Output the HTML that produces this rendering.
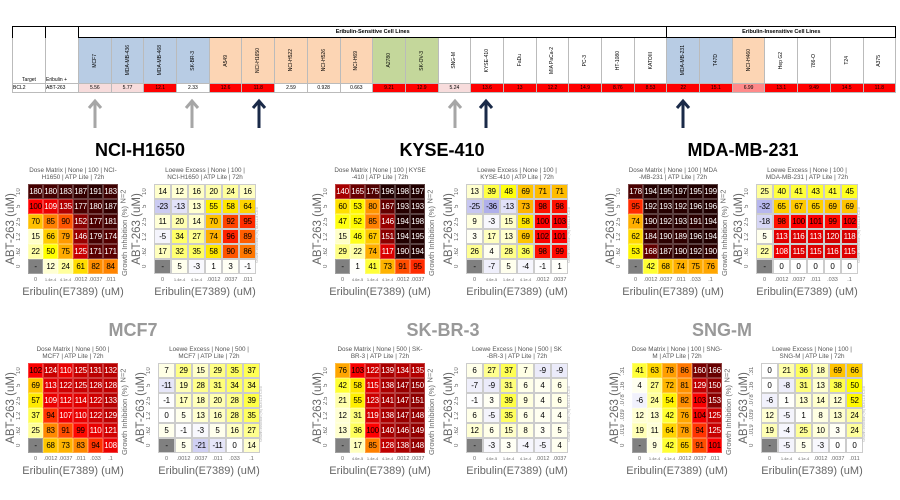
<!DOCTYPE html>
<html><head><meta charset="utf-8"><style>
body{margin:0;width:900px;height:500px;background:#fff;position:relative;overflow:hidden;font-family:"Liberation Sans",sans-serif;}
.a{position:absolute;}
table.top{position:absolute;left:12px;top:26px;border-collapse:collapse;table-layout:fixed;font-size:5px;}
table.top td{border:1px solid #bbb;padding:0;overflow:hidden;}
.top .h td{height:10px;}
.top .n td{height:45px;}
.top .v td{height:8px;text-align:center;}
.vn{writing-mode:vertical-rl;transform:rotate(180deg);margin:auto;white-space:nowrap;font-size:5px;}
.bl{background:#b8cce4;}.or{background:#fcd5b4;}.gr{background:#c4d79b;}
.r{background:#ff0000;}.pk{background:#f7dcdc;}.lr{background:#ff8a8a;}
.ttl{position:absolute;font-weight:bold;font-size:18px;transform:translateX(-50%);white-space:nowrap;}
.hm{position:absolute;}
.hm .t{position:absolute;top:-16px;left:-20px;right:-20px;text-align:center;font-size:6.3px;line-height:6.5px;color:#555;}
.hm .g{display:grid;grid-template-rows:repeat(6,15px);}
.hm.d .g{grid-template-columns:repeat(6,15px);}
.hm.l .g{grid-template-columns:repeat(6,17px);}
.hm .g i{font-style:normal;font-size:8px;display:flex;align-items:center;justify-content:center;box-sizing:border-box;letter-spacing:-0.3px;}
.hm.d .g i{border:0.5px solid rgba(255,255,255,.25);}
.hm.l .g i{border:0.5px solid #ccc;}
.hm .yt{position:absolute;left:-12px;top:0;display:flex;flex-direction:column;}
.hm .yt span{height:15px;width:10px;writing-mode:vertical-rl;transform:rotate(180deg);font-size:6px;color:#666;text-align:center;}
.hm .xt{position:absolute;left:0;top:93px;display:flex;}
.hm .xt span{text-align:center;font-size:5.5px;color:#666;}
.hm.d .xt span{width:15px;}.hm.l .xt span{width:17px;}
.hm .xt span.s{font-size:4px;}
.hm .xl{position:absolute;top:102px;left:-30px;right:-30px;text-align:center;font-size:11px;color:#666;white-space:nowrap;}
.hm .yl{position:absolute;left:-61px;top:38px;width:90px;height:14px;text-align:center;font-size:11.5px;color:#666;transform:rotate(-90deg);white-space:nowrap;}
.hm .rl{position:absolute;top:52px;width:90px;height:10px;text-align:center;font-size:7.5px;color:#666;transform:rotate(-90deg);white-space:nowrap;}
.hm.d .rl{left:52px;}
.hm.l .rl{left:61px;font-size:3.5px;color:#aaa;top:46px;}
.hm .nn{position:absolute;top:8px;left:88px;font-size:7.5px;color:#666;transform:rotate(-90deg);}
</style></head><body>

<table class="top">
<colgroup><col style="width:33px"><col style="width:33px"><col span="25" style="width:32.7px"></colgroup>
<tr class="h"><td style="border:1px solid #000;border-bottom:none"></td><td style="border:1px solid #000;border-bottom:none"></td><td colspan="18" style="border:1.5px solid #000;text-align:center;font-weight:bold;font-size:5.5px">Eribulin-Sensitive Cell Lines</td><td colspan="7" style="border:1.5px solid #000;text-align:center;font-weight:bold;font-size:5.5px">Eribulin-Insensitive Cell Lines</td></tr>
<tr class="n"><td style="vertical-align:bottom;text-align:center;border-top:none">Target</td><td style="vertical-align:bottom;border-top:none">Eribulin +</td>
<td class="bl"><div class="vn">MCF7</div></td><td class="bl"><div class="vn">MDA-MB-436</div></td><td class="bl"><div class="vn">MDA-MB-468</div></td><td class="bl"><div class="vn">SK-BR-3</div></td>
<td class="or"><div class="vn">A549</div></td><td class="or"><div class="vn">NCI-H1650</div></td><td class="or"><div class="vn">NCI-H522</div></td><td class="or"><div class="vn">NCI-H526</div></td><td class="or"><div class="vn">NCI-H69</div></td>
<td class="gr"><div class="vn">A2780</div></td><td class="gr"><div class="vn">SK-OV-3</div></td>
<td><div class="vn">SNG-M</div></td><td><div class="vn">KYSE-410</div></td><td><div class="vn">FaDu</div></td><td><div class="vn">MIA PaCa-2</div></td><td><div class="vn">PC-3</div></td><td><div class="vn">HT-1080</div></td><td><div class="vn">KATOIII</div></td>
<td class="bl"><div class="vn">MDA-MB-231</div></td><td class="bl"><div class="vn">T47D</div></td><td class="or"><div class="vn">NCI-H460</div></td>
<td><div class="vn">Hep G2</div></td><td><div class="vn">786-O</div></td><td><div class="vn">T24</div></td><td><div class="vn">A375</div></td></tr>
<tr class="v"><td style="text-align:left">BCL2</td><td style="text-align:left">ABT-263</td>
<td class="pk">5.56</td><td class="pk">5.77</td><td class="r">12.1</td><td>2.33</td><td class="r">12.6</td><td class="r">11.8</td><td>2.59</td><td>0.928</td><td>0.663</td><td class="r">9.21</td><td class="r">12.9</td><td class="pk">5.24</td><td class="r">13.6</td><td class="r">13</td><td class="r">12.2</td><td class="r">14.9</td><td class="r">8.76</td><td class="r">8.53</td><td class="r">22</td><td class="r">15.1</td><td class="lr">6.99</td><td class="r">13.1</td><td class="r">9.49</td><td class="r">14.5</td><td class="r">11.8</td></tr>
</table>

<svg class="a" style="left:0;top:0" width="900" height="140">
<g fill="none" stroke-width="3" stroke-linejoin="miter">
<path d="M95 128V101M89 108L95 101L101 108" stroke="#a6a6a6"/>
<path d="M192 128V101M186 108L192 101L198 108" stroke="#a6a6a6"/>
<path d="M455 128V101M449 108L455 101L461 108" stroke="#a6a6a6"/>
<path d="M259 128V101M253 108L259 101L265 108" stroke="#1a2a48"/>
<path d="M486 128V101M480 108L486 101L492 108" stroke="#1a2a48"/>
<path d="M683 128V101M677 108L683 101L689 108" stroke="#1a2a48"/>
</g></svg>

<div class="ttl" style="left:140px;top:140px">NCI-H1650</div>
<div class="ttl" style="left:442px;top:140px">KYSE-410</div>
<div class="ttl" style="left:743px;top:140px">MDA-MB-231</div>
<div class="ttl" style="left:133px;top:320px;color:#999">MCF7</div>
<div class="ttl" style="left:443px;top:320px;color:#999">SK-BR-3</div>
<div class="ttl" style="left:722px;top:320px;color:#999">SNG-M</div>

<!-- NCI-H1650 -->
<div class="hm d" style="left:28px;top:184px"><div class="t">Dose Matrix | None | 100 | NCI-<br>H1650 | ATP Lite | 72h</div>
<div class="g"><i>180</i><i>180</i><i>183</i><i>187</i><i>191</i><i>183</i><i>100</i><i>109</i><i>135</i><i>177</i><i>180</i><i>187</i><i>70</i><i>85</i><i>90</i><i>152</i><i>177</i><i>181</i><i>15</i><i>66</i><i>79</i><i>146</i><i>179</i><i>174</i><i>22</i><i>50</i><i>75</i><i>125</i><i>171</i><i>171</i><i>-</i><i>12</i><i>24</i><i>61</i><i>82</i><i>84</i></div>
<div class="yt"><span>10</span><span>5</span><span>2.5</span><span>1.2</span><span>.62</span><span>0</span></div>
<div class="xt"><span>0</span><span class="s">1.4e-4</span><span class="s">4.1e-4</span><span>.0012</span><span>.0037</span><span>.011</span></div>
<div class="yl">ABT-263 (uM)</div><div class="xl">Eribulin(E7389) (uM)</div><div class="rl">Growth Inhibition (%)</div><div class="nn">N=2</div></div>
<div class="hm l" style="left:154px;top:184px"><div class="t">Loewe Excess | None | 100 |<br>NCI-H1650 | ATP Lite | 72h</div>
<div class="g"><i>14</i><i>12</i><i>16</i><i>20</i><i>24</i><i>16</i><i>-23</i><i>-13</i><i>13</i><i>55</i><i>58</i><i>64</i><i>11</i><i>20</i><i>14</i><i>70</i><i>92</i><i>95</i><i>-5</i><i>34</i><i>27</i><i>74</i><i>96</i><i>89</i><i>17</i><i>32</i><i>35</i><i>58</i><i>90</i><i>86</i><i>-</i><i>5</i><i>-3</i><i>1</i><i>3</i><i>-1</i></div>
<div class="yt"><span>10</span><span>5</span><span>2.5</span><span>1.2</span><span>.62</span><span>0</span></div>
<div class="xt"><span>0</span><span class="s">1.4e-4</span><span class="s">4.1e-4</span><span>.0012</span><span>.0037</span><span>.011</span></div>
<div class="yl">ABT-263 (uM)</div><div class="xl">Eribulin(E7389) (uM)</div><div class="rl">Growth Inhibition (%) SD=11.8 CI=0</div></div>

<!-- KYSE-410 -->
<div class="hm d" style="left:335px;top:184px"><div class="t">Dose Matrix | None | 100 | KYSE<br>-410 | ATP Lite | 72h</div>
<div class="g"><i>140</i><i>165</i><i>175</i><i>196</i><i>198</i><i>197</i><i>60</i><i>53</i><i>80</i><i>167</i><i>193</i><i>193</i><i>47</i><i>52</i><i>85</i><i>146</i><i>194</i><i>198</i><i>15</i><i>46</i><i>67</i><i>151</i><i>194</i><i>195</i><i>29</i><i>22</i><i>74</i><i>117</i><i>190</i><i>194</i><i>-</i><i>1</i><i>41</i><i>73</i><i>91</i><i>95</i></div>
<div class="yt"><span>10</span><span>5</span><span>2.5</span><span>1.2</span><span>.62</span><span>0</span></div>
<div class="xt"><span>0</span><span class="s">4.6e-5</span><span class="s">1.4e-4</span><span class="s">4.1e-4</span><span>.0012</span><span>.0037</span></div>
<div class="yl">ABT-263 (uM)</div><div class="xl">Eribulin(E7389) (uM)</div><div class="rl">Growth Inhibition (%)</div><div class="nn">N=2</div></div>
<div class="hm l" style="left:466px;top:184px"><div class="t">Loewe Excess | None | 100 |<br>KYSE-410 | ATP Lite | 72h</div>
<div class="g"><i>13</i><i>39</i><i>48</i><i>69</i><i>71</i><i>71</i><i>-25</i><i>-36</i><i>-13</i><i>73</i><i>98</i><i>98</i><i>9</i><i>-3</i><i>15</i><i>58</i><i>100</i><i>103</i><i>3</i><i>17</i><i>13</i><i>69</i><i>102</i><i>101</i><i>26</i><i>4</i><i>28</i><i>36</i><i>98</i><i>99</i><i>-</i><i>-7</i><i>5</i><i>-4</i><i>-1</i><i>1</i></div>
<div class="yt"><span>10</span><span>5</span><span>2.5</span><span>1.2</span><span>.62</span><span>0</span></div>
<div class="xt"><span>0</span><span class="s">4.6e-5</span><span class="s">1.4e-4</span><span class="s">4.1e-4</span><span>.0012</span><span>.0037</span></div>
<div class="yl">ABT-263 (uM)</div><div class="xl">Eribulin(E7389) (uM)</div><div class="rl">Growth Inhibition (%) SD=11.8 CI=0</div></div>

<!-- MDA-MB-231 -->
<div class="hm d" style="left:628px;top:184px"><div class="t">Dose Matrix | None | 100 | MDA<br>-MB-231 | ATP Lite | 72h</div>
<div class="g"><i>178</i><i>194</i><i>195</i><i>197</i><i>195</i><i>199</i><i>95</i><i>192</i><i>193</i><i>192</i><i>196</i><i>196</i><i>74</i><i>190</i><i>192</i><i>193</i><i>191</i><i>194</i><i>62</i><i>184</i><i>190</i><i>189</i><i>196</i><i>194</i><i>53</i><i>168</i><i>187</i><i>190</i><i>192</i><i>190</i><i>-</i><i>42</i><i>68</i><i>74</i><i>75</i><i>76</i></div>
<div class="yt"><span>10</span><span>5</span><span>2.5</span><span>1.2</span><span>.62</span><span>0</span></div>
<div class="xt"><span>0</span><span>.0012</span><span>.0037</span><span>.011</span><span>.033</span><span>.1</span></div>
<div class="yl">ABT-263 (uM)</div><div class="xl">Eribulin(E7389) (uM)</div><div class="rl">Growth Inhibition (%)</div><div class="nn">N=2</div></div>
<div class="hm l" style="left:756px;top:184px"><div class="t">Loewe Excess | None | 100 |<br>MDA-MB-231 | ATP Lite | 72h</div>
<div class="g"><i>25</i><i>40</i><i>41</i><i>43</i><i>41</i><i>45</i><i>-32</i><i>65</i><i>67</i><i>65</i><i>69</i><i>69</i><i>-18</i><i>98</i><i>100</i><i>101</i><i>99</i><i>102</i><i>5</i><i>113</i><i>116</i><i>113</i><i>120</i><i>118</i><i>22</i><i>108</i><i>115</i><i>115</i><i>116</i><i>115</i><i>-</i><i>0</i><i>0</i><i>0</i><i>0</i><i>0</i></div>
<div class="yt"><span>10</span><span>5</span><span>2.5</span><span>1.2</span><span>.62</span><span>0</span></div>
<div class="xt"><span>0</span><span>.0012</span><span>.0037</span><span>.011</span><span>.033</span><span>.1</span></div>
<div class="yl">ABT-263 (uM)</div><div class="xl">Eribulin(E7389) (uM)</div><div class="rl">Growth Inhibition (%) SD=11.8 CI=0</div></div>

<!-- MCF7 -->
<div class="hm d" style="left:28px;top:363px"><div class="t">Dose Matrix | None | 500 |<br>MCF7 | ATP Lite | 72h</div>
<div class="g"><i>102</i><i>124</i><i>110</i><i>125</i><i>131</i><i>132</i><i>69</i><i>113</i><i>122</i><i>125</i><i>128</i><i>128</i><i>57</i><i>109</i><i>112</i><i>114</i><i>122</i><i>133</i><i>37</i><i>94</i><i>107</i><i>110</i><i>122</i><i>129</i><i>25</i><i>83</i><i>91</i><i>99</i><i>110</i><i>121</i><i>-</i><i>68</i><i>73</i><i>83</i><i>94</i><i>108</i></div>
<div class="yt"><span>10</span><span>5</span><span>2.5</span><span>1.2</span><span>.62</span><span>0</span></div>
<div class="xt"><span>0</span><span>.0012</span><span>.0037</span><span>.011</span><span>.033</span><span>.1</span></div>
<div class="yl">ABT-263 (uM)</div><div class="xl">Eribulin(E7389) (uM)</div><div class="rl">Growth Inhibition (%)</div><div class="nn">N=2</div></div>
<div class="hm l" style="left:158px;top:363px"><div class="t">Loewe Excess | None | 500 |<br>MCF7 | ATP Lite | 72h</div>
<div class="g"><i>7</i><i>29</i><i>15</i><i>29</i><i>35</i><i>37</i><i>-11</i><i>19</i><i>28</i><i>31</i><i>34</i><i>34</i><i>-1</i><i>17</i><i>18</i><i>20</i><i>28</i><i>39</i><i>0</i><i>5</i><i>13</i><i>16</i><i>28</i><i>35</i><i>5</i><i>-1</i><i>-3</i><i>5</i><i>16</i><i>27</i><i>-</i><i>5</i><i>-21</i><i>-11</i><i>0</i><i>14</i></div>
<div class="yt"><span>10</span><span>5</span><span>2.5</span><span>1.2</span><span>.62</span><span>0</span></div>
<div class="xt"><span>0</span><span>.0012</span><span>.0037</span><span>.011</span><span>.033</span><span>.1</span></div>
<div class="yl">ABT-263 (uM)</div><div class="xl">Eribulin(E7389) (uM)</div><div class="rl">Growth Inhibition (%) SD=11.8 CI=0</div></div>

<!-- SK-BR-3 -->
<div class="hm d" style="left:335px;top:363px"><div class="t">Dose Matrix | None | 500 | SK-<br>BR-3 | ATP Lite | 72h</div>
<div class="g"><i>76</i><i>103</i><i>122</i><i>139</i><i>134</i><i>135</i><i>42</i><i>58</i><i>115</i><i>138</i><i>147</i><i>150</i><i>21</i><i>55</i><i>123</i><i>141</i><i>147</i><i>151</i><i>12</i><i>31</i><i>119</i><i>138</i><i>147</i><i>148</i><i>13</i><i>36</i><i>100</i><i>140</i><i>146</i><i>149</i><i>-</i><i>17</i><i>85</i><i>128</i><i>138</i><i>148</i></div>
<div class="yt"><span>10</span><span>5</span><span>2.5</span><span>1.2</span><span>.62</span><span>0</span></div>
<div class="xt"><span>0</span><span class="s">4.6e-5</span><span class="s">1.4e-4</span><span class="s">4.1e-4</span><span>.0012</span><span>.0037</span></div>
<div class="yl">ABT-263 (uM)</div><div class="xl">Eribulin(E7389) (uM)</div><div class="rl">Growth Inhibition (%)</div><div class="nn">N=2</div></div>
<div class="hm l" style="left:466px;top:363px"><div class="t">Loewe Excess | None | 500 | SK<br>-BR-3 | ATP Lite | 72h</div>
<div class="g"><i>6</i><i>27</i><i>37</i><i>7</i><i>-9</i><i>-9</i><i>-7</i><i>-9</i><i>31</i><i>6</i><i>4</i><i>6</i><i>-1</i><i>3</i><i>39</i><i>9</i><i>4</i><i>6</i><i>6</i><i>-5</i><i>35</i><i>6</i><i>4</i><i>4</i><i>12</i><i>6</i><i>15</i><i>8</i><i>3</i><i>5</i><i>-</i><i>-3</i><i>3</i><i>-4</i><i>-5</i><i>4</i></div>
<div class="yt"><span>10</span><span>5</span><span>2.5</span><span>1.2</span><span>.62</span><span>0</span></div>
<div class="xt"><span>0</span><span class="s">4.6e-5</span><span class="s">1.4e-4</span><span class="s">4.1e-4</span><span>.0012</span><span>.0037</span></div>
<div class="yl">ABT-263 (uM)</div><div class="xl">Eribulin(E7389) (uM)</div><div class="rl">Growth Inhibition (%) SD=11.8 CI=0</div></div>

<!-- SNG-M -->
<div class="hm d" style="left:632px;top:363px"><div class="t">Dose Matrix | None | 100 | SNG-<br>M | ATP Lite | 72h</div>
<div class="g"><i>41</i><i>63</i><i>78</i><i>86</i><i>160</i><i>166</i><i>4</i><i>27</i><i>72</i><i>81</i><i>129</i><i>150</i><i>-6</i><i>24</i><i>54</i><i>82</i><i>103</i><i>153</i><i>12</i><i>13</i><i>42</i><i>76</i><i>104</i><i>125</i><i>19</i><i>11</i><i>64</i><i>78</i><i>94</i><i>125</i><i>-</i><i>9</i><i>42</i><i>65</i><i>91</i><i>101</i></div>
<div class="yt"><span>.31</span><span>.16</span><span>.078</span><span>.039</span><span>.019</span><span>0</span></div>
<div class="xt"><span>0</span><span class="s">1.4e-4</span><span class="s">4.1e-4</span><span>.0012</span><span>.0037</span><span>.011</span></div>
<div class="yl">ABT-263 (uM)</div><div class="xl">Eribulin(E7389) (uM)</div><div class="rl">Growth Inhibition (%)</div><div class="nn">N=2</div></div>
<div class="hm l" style="left:761px;top:363px"><div class="t">Loewe Excess | None | 100 |<br>SNG-M | ATP Lite | 72h</div>
<div class="g"><i>0</i><i>21</i><i>36</i><i>18</i><i>69</i><i>66</i><i>0</i><i>-8</i><i>31</i><i>13</i><i>38</i><i>50</i><i>-6</i><i>1</i><i>13</i><i>14</i><i>12</i><i>52</i><i>12</i><i>-5</i><i>1</i><i>8</i><i>13</i><i>24</i><i>19</i><i>-4</i><i>25</i><i>10</i><i>3</i><i>24</i><i>-</i><i>-5</i><i>5</i><i>-3</i><i>0</i><i>0</i></div>
<div class="yt"><span>.31</span><span>.16</span><span>.078</span><span>.039</span><span>.019</span><span>0</span></div>
<div class="xt"><span>0</span><span class="s">1.4e-4</span><span class="s">4.1e-4</span><span>.0012</span><span>.0037</span><span>.011</span></div>
<div class="yl">ABT-263 (uM)</div><div class="xl">Eribulin(E7389) (uM)</div><div class="rl">Growth Inhibition (%) SD=11.8 CI=0</div></div>

<script>
var stops=[[-35,[176,176,235]],[0,[255,255,255]],[15,[255,255,200]],[30,[255,255,128]],[50,[255,255,0]],[70,[255,192,0]],[85,[255,128,0]],[100,[255,0,0]],[125,[200,0,0]],[150,[144,0,0]],[175,[80,0,0]],[195,[32,0,0]]];
function col(v){if(v<=stops[0][0])return stops[0][1];for(var i=1;i<stops.length;i++){if(v<=stops[i][0]){var a=stops[i-1],b=stops[i],t=(v-a[0])/(b[0]-a[0]);return a[1].map(function(c,k){return Math.round(c+(b[1][k]-c)*t);});}}return stops[stops.length-1][1];}
document.querySelectorAll('.hm .g i').forEach(function(e){var s=e.textContent.trim();if(s==='-'){e.style.background='#808080';return;}var v=parseFloat(s),c=col(v);e.style.background='rgb('+c.join(',')+')';if(v>=105)e.style.color='#fff';});
</script>
</body></html>
